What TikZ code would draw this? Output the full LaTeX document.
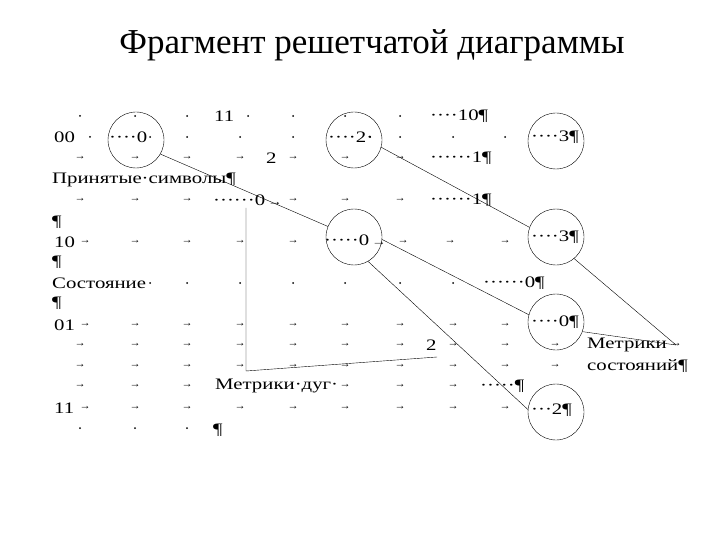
\documentclass[tikz,border=0pt]{standalone}
\usepackage{fontspec}
\setmainfont{Liberation Serif}
\newfontfamily\widefont[FakeStretch=1.3]{Liberation Serif}
\begin{document}
\begin{tikzpicture}[x=1pt,y=-1pt,
  txt/.style={anchor=west,inner sep=0pt,font=\widefont\fontsize{16}{18}\selectfont},
  st/.style={circle,draw,thin,minimum size=56pt,inner sep=0pt},
  ar/.style={inner sep=0pt,font=\fontsize{11}{11}\selectfont},
  dt/.style={circle,fill,inner sep=0pt,minimum size=2pt},
  ln/.style={draw,thin}]
\useasboundingbox (0,0) rectangle (720,540);
\node[font=\fontsize{35}{38}\selectfont] (title) at (372,45) {Фрагмент решетчатой диаграммы};
% circles
\node[st] (c1) at (136,140) {};
\node[st] (c2) at (354,140) {};
\node[st] (c3) at (556,141) {};
\node[st] (c4) at (354,237) {};
\node[st] (c5) at (556,237) {};
\node[st] (c6) at (556,322) {};
\node[st] (c7) at (556,412) {};
% texts
\node[txt] (t00) at (54,137) {00};
\node[txt] (t11a) at (214,116) {11};
\node[txt] (t2a) at (266,158) {2};
\node[txt] (tps) at (52,180) {Принятые·символы¶};
\node[txt] (p1) at (52,222) {¶};
\node[txt] (t10) at (54,242) {10};
\node[txt] (p2) at (52,262) {¶};
\node[txt] (tst) at (52,283) {Состояние};
\node[txt] (p3) at (52,303) {¶};
\node[txt] (t01) at (54,325) {01};
\node[txt] (t11b) at (54,408) {11};
\node[txt] (tmd) at (215,386) {Метрики·дуг·};
\node[txt] (p4) at (213,430) {¶};
\node[txt] (t2b) at (426,345) {2};
\node[txt] (tm1) at (587,345) {Метрики};
\node[txt] (tm2) at (587,366) {состояний¶};
\node[txt] (l10) at (430,116) {····10¶};
\node[txt] (l1a) at (430,158) {······1¶};
\node[txt] (l1b) at (430,200) {······1¶};
\node[txt] (l0c) at (213,200) {······0\,{\fontsize{11}{11}\selectfont →}};
\node[txt] (l0d) at (483,283) {······0¶};
\node[txt] (lpe) at (480,386) {·····¶};
\node[txt] (k1) at (109,137) {····0};
\node[txt] (k2) at (328,137) {····2·};
\node[txt] (k3) at (531,137) {····3¶};
\node[txt] (k4) at (324,240) {·····0\,{\fontsize{11}{11}\selectfont →}};
\node[txt] (k5) at (531,237) {····3¶};
\node[txt] (k6) at (531,322) {····0¶};
\node[txt] (k7) at (531,410) {···2¶};
% dots (tab marks)
\foreach \x/\y [count=\i] in {80/116,135/116,187/116,248/116,293/116,345/116,400/116,
  90/137,150/137,187/137,240/137,293/137,370/137,400/137,453/137,505/137,
  150/283,187/283,240/283,293/283,345/283,400/283,453/283,
  80/428,135/428,187/428}
  \node[dt] (d\i) at (\x,\y) {};
% arrows
\foreach \x/\y [count=\i] in {80/158,135/158,187/158,240/158,293/158,345/158,400/158,
  80/200,135/200,187/200,293/200,345/200,400/200,
  85/242,135/242,187/242,240/242,293/242,403/242,450/242,505/242,
  85/325,135/325,187/325,240/325,293/325,345/325,400/325,453/325,505/325,
  80/345,135/345,187/345,240/345,293/345,345/345,400/345,453/345,505/345,555/345,676/345,
  80/366,135/366,187/366,240/366,293/366,345/366,400/366,453/366,505/366,555/366,
  80/386,135/386,187/386,345/386,400/386,453/386,
  85/408,135/408,187/408,240/408,293/408,345/408,400/408,453/408,505/408}
  \node[ar] (a\i) at (\x,\y) {→};
% connectors
\coordinate (m) at (676,345);
\coordinate (v1) at (246,208);
\coordinate (v2) at (246,371);
\coordinate (v3) at (437,357);
\draw[ln] (c1.-30) -- (c4.158);
\draw[ln] (c2.-15) -- (c5.160);
\draw[ln] (c4.-5) -- (c6.165);
\draw[ln] (c4.-60) -- (c7.175);
\draw[ln] (c5.-50) -- (m);
\draw[ln] (c6.-20) -- (m);
\draw[ln] (v1) -- (v2) -- (v3);
\end{tikzpicture}
\end{document}
